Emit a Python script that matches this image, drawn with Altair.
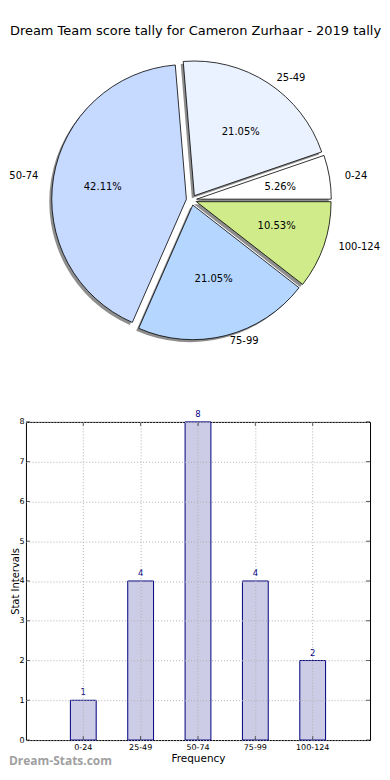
import altair as alt
import pandas as pd

# ---- data ----
categories = ["0-24", "25-49", "50-74", "75-99", "100-124"]
counts = [1, 4, 8, 4, 2]
order = [0, 1, 2, 3, 4]
y_ticks = [0, 1, 2, 3, 4, 5, 6, 7, 8]
slice_colors = ["#ffffff", "#eaf1ff", "#c6d9ff", "#b4d6ff", "#d0eb8a"]
title_text = ["Dream Team score tally for Cameron Zurhaar - 2019 tally"]
watermark = ["Dream-Stats.com"]

df = pd.DataFrame({"cat": categories, "count": counts, "order": order})
ticks_df = pd.DataFrame({"count": y_ticks})

# ---- layout constants (pixels, relative to the pie view) ----
CX, CY = 166.0, 190.5
R = 135
EXP = 5.2
LX, LY = 155.7, 145.8   # outer label distance
TX, TY = 90.2, 81.8     # percentage label distance
SH = 2.5
FONT = "DejaVu Sans"
W, H = 345, 319

base = (
    alt.Chart(df)
    .transform_joinaggregate(total="sum(count)")
    .transform_window(cum="sum(count)", sort=[alt.SortField("order")], frame=[None, 0])
    .transform_calculate(
        a0="2*PI*(datum.cum - datum.count)/datum.total",
        a1="2*PI*datum.cum/datum.total",
    )
    .transform_calculate(
        mid="(datum.a0 + datum.a1)/2",
        th="PI/2 - datum.a1",
        th2="PI/2 - datum.a0",
        pct="format(100*datum.count/datum.total, '.2f') + '%'",
    )
    .transform_calculate(
        px=f"{CX} + {EXP}*cos(datum.mid)",
        py=f"{CY} - {EXP}*sin(datum.mid)",
        sx=f"{CX} + {EXP}*cos(datum.mid) - {SH}",
        sy=f"{CY} - {EXP}*sin(datum.mid) + {SH}",
        lx=f"{CX} + {LX}*cos(datum.mid)",
        ly=f"{CY} - {LY}*sin(datum.mid)",
        tx=f"{CX} + {TX}*cos(datum.mid)",
        ty=f"{CY} - {TY}*sin(datum.mid)",
    )
)

shadow = base.mark_arc(radius=R, fill="#8e8e8e").encode(
    x=alt.X("sx:Q", scale=None),
    y=alt.Y("sy:Q", scale=None),
    theta=alt.Theta("th:Q", scale=None),
    theta2=alt.Theta2("th2:Q"),
)

arcs = base.mark_arc(radius=R, stroke="black", strokeWidth=0.8).encode(
    x=alt.X("px:Q", scale=None),
    y=alt.Y("py:Q", scale=None),
    theta=alt.Theta("th:Q", scale=None),
    theta2=alt.Theta2("th2:Q"),
    color=alt.Color("cat:N", scale=alt.Scale(domain=categories, range=slice_colors), legend=None),
)

labels_left = base.transform_filter("cos(datum.mid) > 0").mark_text(
    align="left", baseline="middle", fontSize=10, font=FONT, color="black"
).encode(x=alt.X("lx:Q", scale=None), y=alt.Y("ly:Q", scale=None), text="cat:N")

labels_right = base.transform_filter("cos(datum.mid) <= 0").mark_text(
    align="right", baseline="middle", fontSize=10, font=FONT, color="black"
).encode(x=alt.X("lx:Q", scale=None), y=alt.Y("ly:Q", scale=None), text="cat:N")

pcts = base.mark_text(
    align="center", baseline="middle", fontSize=10, font=FONT, color="black"
).encode(x=alt.X("tx:Q", scale=None), y=alt.Y("ty:Q", scale=None), text="pct:N")

title = alt.Chart(pd.DataFrame({"t": title_text})).mark_text(
    align="center", baseline="middle", fontSize=13, font=FONT, color="black"
).encode(x=alt.value(170), y=alt.value(21), text="t:N")

pie = alt.layer(shadow, arcs, labels_left, labels_right, pcts, title).properties(
    width=W, height=393, view=alt.ViewBackground(stroke="transparent")
)

# ---- bar chart ----
xscale = alt.Scale(domain=categories, paddingInner=0.55, paddingOuter=0.775)
yscale = alt.Scale(domain=[0, 8], nice=False)

xaxis = alt.Axis(
    title="Frequency", titleFont=FONT, titleFontSize=10.5, titleFontWeight="normal",
    titleColor="black", titleY=21, titleBaseline="alphabetic",
    labelAngle=0, labelFont=FONT, labelFontSize=8, labelColor="black", labelPadding=3,
    ticks=False, domain=False, grid=True, gridDash=[1, 2], gridColor="#b0b0b0",
    bandPosition=0.5, zindex=1,
)
yaxis = alt.Axis(
    title="Stat Intervals", titleFont=FONT, titleFontSize=10, titleFontWeight="normal",
    titleColor="black", titleX=-7, titleBaseline="alphabetic",
    values=y_ticks, format="d", labelOverlap=False, tickCount=9,
    labelFont=FONT, labelFontSize=8, labelColor="black", labelPadding=2,
    ticks=False, domain=False, grid=True, gridDash=[1, 2], gridColor="#b0b0b0", zindex=1,
)


def xe():
    return alt.X("cat:N", sort=categories, scale=xscale, axis=xaxis)


def ye():
    return alt.Y("count:Q", scale=yscale, axis=yaxis)


bars = alt.Chart(df).mark_bar(fill="#ccccE6", stroke="#000080", strokeWidth=1).encode(x=xe(), y=ye())
vals = alt.Chart(df).mark_text(
    dy=-3, baseline="bottom", color="#000080", fontSize=8.5, font=FONT
).encode(x=xe(), y=ye(), text="count:Q")

# inside ticks (matplotlib style)
yt_left = alt.Chart(ticks_df).mark_tick(orient="horizontal", size=4, thickness=1, color="black").encode(
    y=ye(), x=alt.value(2)
)
yt_right = alt.Chart(ticks_df).mark_tick(orient="horizontal", size=4, thickness=1, color="black").encode(
    y=ye(), x=alt.value(W - 2)
)
xt_bottom = alt.Chart(df).mark_tick(orient="vertical", size=4, thickness=1, color="black").encode(
    x=xe(), y=alt.value(H - 2)
)
xt_top = alt.Chart(df).mark_tick(orient="vertical", size=4, thickness=1, color="black").encode(
    x=xe(), y=alt.value(2)
)

wm = alt.Chart(pd.DataFrame({"t": watermark})).mark_text(
    align="left", baseline="alphabetic", font="Open Sans", fontWeight="bold",
    fontSize=12, color="#a0a0a0"
).encode(x=alt.value(-17), y=alt.value(344), text="t:N")

bar = alt.layer(bars, vals, yt_left, yt_right, xt_bottom, xt_top, wm).properties(
    width=W, height=H, view=alt.ViewBackground(stroke="black", strokeWidth=1)
)

chart = alt.vconcat(pie, bar, spacing=20, bounds="flush").properties(padding=0).configure(font=FONT)

chart.save("out.html", embed_options={"renderer": "svg", "actions": False})
